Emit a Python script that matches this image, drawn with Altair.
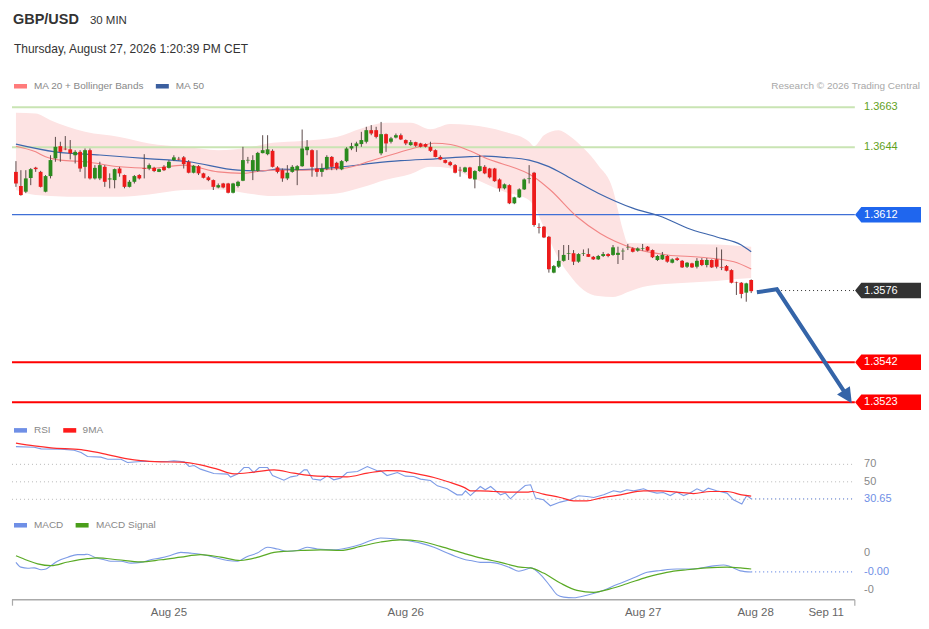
import altair as alt
import pandas as pd

# ---------------- data ----------------
candle_open = [
    1.36323, 1.36256, 1.36229, 1.36294, 1.36343, 1.36323, 1.36229, 1.36303, 1.36387, 1.36445,
    1.36433, 1.36430, 1.36402, 1.36418, 1.36347, 1.36426, 1.36292, 1.36292, 1.36347, 1.36287,
    1.36284, 1.36339, 1.36308, 1.36252, 1.36276, 1.36308, 1.36341, 1.36339, 1.36342, 1.36323,
    1.36347, 1.36342, 1.36379, 1.36385, 1.36392, 1.36371, 1.36319, 1.36350, 1.36316, 1.36297,
    1.36284, 1.36249, 1.36268, 1.36268, 1.36224, 1.36256, 1.36281, 1.36377, 1.36328, 1.36328,
    1.36412, 1.36407, 1.36423, 1.36344, 1.36331, 1.36292, 1.36323, 1.36331, 1.36350, 1.36426,
    1.36426, 1.36339, 1.36323, 1.36339, 1.36394, 1.36366, 1.36335, 1.36374, 1.36434, 1.36445,
    1.36455, 1.36466, 1.36521, 1.36521, 1.36411, 1.36502, 1.36466, 1.36486, 1.36497, 1.36474,
    1.36450, 1.36464, 1.36458, 1.36455, 1.36442, 1.36426, 1.36394, 1.36379, 1.36369, 1.36355,
    1.36333, 1.36323, 1.36344, 1.36287, 1.36327, 1.36347, 1.36339, 1.36339, 1.36287, 1.36245,
    1.36260, 1.36174, 1.36202, 1.36240, 1.36289, 1.36319, 1.36061, 1.36063, 1.36015, 1.35845,
    1.35873, 1.35901, 1.35935, 1.35937, 1.35897, 1.35934, 1.35933, 1.35920, 1.35908, 1.35924,
    1.35933, 1.35929, 1.35929, 1.35946, 1.35964, 1.35960, 1.35949, 1.35959, 1.35968, 1.35952,
    1.35905, 1.35908, 1.35924, 1.35892, 1.35913, 1.35901, 1.35873, 1.35889, 1.35873, 1.35905,
    1.35881, 1.35905, 1.35908, 1.35872, 1.35876, 1.35857, 1.35798, 1.35797, 1.35750, 1.35810,
]
candle_high = [
    1.36374, 1.36331, 1.36331, 1.36341, 1.36347, 1.36328, 1.36308, 1.36402, 1.36489, 1.36466,
    1.36493, 1.36474, 1.36426, 1.36426, 1.36434, 1.36434, 1.36355, 1.36371, 1.36355, 1.36316,
    1.36339, 1.36347, 1.36310, 1.36284, 1.36308, 1.36312, 1.36407, 1.36363, 1.36347, 1.36339,
    1.36355, 1.36379, 1.36402, 1.36394, 1.36398, 1.36379, 1.36355, 1.36355, 1.36319, 1.36303,
    1.36287, 1.36268, 1.36271, 1.36271, 1.36271, 1.36281, 1.36442, 1.36394, 1.36402, 1.36418,
    1.36497, 1.36497, 1.36430, 1.36350, 1.36339, 1.36355, 1.36355, 1.36355, 1.36524, 1.36474,
    1.36430, 1.36426, 1.36363, 1.36402, 1.36398, 1.36371, 1.36379, 1.36440, 1.36461, 1.36466,
    1.36513, 1.36537, 1.36545, 1.36537, 1.36560, 1.36505, 1.36489, 1.36505, 1.36505, 1.36477,
    1.36474, 1.36466, 1.36461, 1.36458, 1.36466, 1.36430, 1.36402, 1.36382, 1.36374, 1.36360,
    1.36347, 1.36347, 1.36347, 1.36331, 1.36402, 1.36355, 1.36342, 1.36342, 1.36292, 1.36268,
    1.36264, 1.36205, 1.36245, 1.36292, 1.36355, 1.36323, 1.36079, 1.36066, 1.36019, 1.35881,
    1.35952, 1.35976, 1.35976, 1.35952, 1.35937, 1.35955, 1.35960, 1.35924, 1.35929, 1.35943,
    1.35937, 1.35976, 1.35968, 1.35960, 1.35981, 1.35965, 1.35965, 1.35981, 1.35971, 1.35955,
    1.35929, 1.35943, 1.35929, 1.35913, 1.35918, 1.35905, 1.35895, 1.35892, 1.35914, 1.35914,
    1.35914, 1.35908, 1.35965, 1.35955, 1.35881, 1.35861, 1.35802, 1.35800, 1.35797, 1.35813,
]
candle_low = [
    1.36252, 1.36210, 1.36222, 1.36260, 1.36323, 1.36249, 1.36226, 1.36292, 1.36371, 1.36371,
    1.36426, 1.36382, 1.36363, 1.36323, 1.36292, 1.36287, 1.36287, 1.36284, 1.36252, 1.36245,
    1.36245, 1.36300, 1.36245, 1.36249, 1.36268, 1.36287, 1.36292, 1.36331, 1.36322, 1.36322,
    1.36327, 1.36339, 1.36374, 1.36377, 1.36339, 1.36316, 1.36316, 1.36308, 1.36292, 1.36279,
    1.36237, 1.36245, 1.36245, 1.36221, 1.36221, 1.36249, 1.36279, 1.36363, 1.36284, 1.36323,
    1.36411, 1.36402, 1.36344, 1.36316, 1.36276, 1.36284, 1.36319, 1.36260, 1.36347, 1.36402,
    1.36300, 1.36300, 1.36300, 1.36331, 1.36331, 1.36331, 1.36331, 1.36369, 1.36426, 1.36418,
    1.36442, 1.36458, 1.36497, 1.36482, 1.36402, 1.36418, 1.36458, 1.36482, 1.36474, 1.36450,
    1.36447, 1.36442, 1.36439, 1.36439, 1.36418, 1.36392, 1.36379, 1.36363, 1.36350, 1.36316,
    1.36300, 1.36319, 1.36289, 1.36245, 1.36323, 1.36312, 1.36292, 1.36276, 1.36229, 1.36240,
    1.36170, 1.36170, 1.36199, 1.36237, 1.36268, 1.36063, 1.36031, 1.36009, 1.35845, 1.35842,
    1.35867, 1.35897, 1.35905, 1.35881, 1.35892, 1.35924, 1.35919, 1.35905, 1.35905, 1.35919,
    1.35918, 1.35925, 1.35886, 1.35905, 1.35952, 1.35941, 1.35944, 1.35949, 1.35946, 1.35914,
    1.35900, 1.35905, 1.35892, 1.35889, 1.35900, 1.35867, 1.35867, 1.35867, 1.35865, 1.35876,
    1.35870, 1.35867, 1.35865, 1.35857, 1.35851, 1.35794, 1.35739, 1.35723, 1.35707, 1.35748,
]
candle_close = [
    1.36268, 1.36213, 1.36292, 1.36336, 1.36336, 1.36252, 1.36303, 1.36379, 1.36442, 1.36418,
    1.36430, 1.36411, 1.36418, 1.36339, 1.36426, 1.36292, 1.36342, 1.36355, 1.36276, 1.36292,
    1.36336, 1.36316, 1.36252, 1.36276, 1.36303, 1.36292, 1.36338, 1.36355, 1.36327, 1.36336,
    1.36331, 1.36371, 1.36392, 1.36382, 1.36360, 1.36319, 1.36352, 1.36316, 1.36295, 1.36284,
    1.36252, 1.36260, 1.36249, 1.36224, 1.36268, 1.36276, 1.36379, 1.36380, 1.36379, 1.36413,
    1.36426, 1.36430, 1.36347, 1.36323, 1.36292, 1.36319, 1.36347, 1.36350, 1.36434, 1.36442,
    1.36347, 1.36323, 1.36339, 1.36394, 1.36347, 1.36339, 1.36374, 1.36434, 1.36445, 1.36458,
    1.36474, 1.36521, 1.36505, 1.36489, 1.36502, 1.36458, 1.36482, 1.36497, 1.36477, 1.36458,
    1.36464, 1.36447, 1.36442, 1.36442, 1.36423, 1.36394, 1.36382, 1.36366, 1.36355, 1.36319,
    1.36330, 1.36344, 1.36292, 1.36327, 1.36350, 1.36316, 1.36297, 1.36279, 1.36245, 1.36264,
    1.36174, 1.36202, 1.36240, 1.36287, 1.36292, 1.36071, 1.36058, 1.36012, 1.35861, 1.35876,
    1.35901, 1.35929, 1.35938, 1.35897, 1.35933, 1.35937, 1.35920, 1.35908, 1.35924, 1.35933,
    1.35924, 1.35965, 1.35939, 1.35949, 1.35966, 1.35944, 1.35960, 1.35962, 1.35949, 1.35918,
    1.35924, 1.35929, 1.35897, 1.35908, 1.35905, 1.35870, 1.35892, 1.35870, 1.35901, 1.35881,
    1.35905, 1.35870, 1.35873, 1.35869, 1.35854, 1.35797, 1.35796, 1.35744, 1.35794, 1.35757,
]

band_idx = [0, 4, 7, 14, 21, 27, 34, 41, 47, 52, 58, 65, 70, 75, 80, 84, 88, 92, 99, 104,
            105, 107, 110, 112, 115, 118, 121, 122, 123, 124, 128, 135, 142, 146, 149]
band_upper = [1.36603, 1.36600, 1.36568, 1.36513, 1.36489, 1.36458, 1.36442, 1.36426, 1.36438, 1.36461,
              1.36470, 1.36489, 1.36529, 1.36556, 1.36556, 1.36525, 1.36550, 1.36545, 1.36513, 1.36466,
              1.36445, 1.36497, 1.36521, 1.36497, 1.36436, 1.36355, 1.36237, 1.36142, 1.36047, 1.35985,
              1.35983, 1.35981, 1.35978, 1.35973, 1.35968]
band_lower = [1.36237, 1.36213, 1.36209, 1.36205, 1.36205, 1.36216, 1.36237, 1.36240, 1.36221, 1.36208,
              1.36213, 1.36221, 1.36249, 1.36286, 1.36313, 1.36347, 1.36340, 1.36300, 1.36229, 1.36189,
              1.36160, 1.36060, 1.35910, 1.35840, 1.35763, 1.35734, 1.35729, 1.35734, 1.35743, 1.35753,
              1.35782, 1.35796, 1.35805, 1.35815, 1.35820]

ma20_idx = [0, 4, 6, 9, 14, 21, 27, 34, 41, 46, 51, 58, 66.5, 72, 77.3, 81.3, 84.7, 88.1, 92.1, 95.5,
            98.5, 104.9, 108.3, 113.7, 118.4, 125.2, 132, 138.8, 145.5, 149]
ma20_val = [1.36445, 1.36418, 1.36395, 1.36379, 1.36371, 1.36347, 1.36340, 1.36355, 1.36323, 1.36316,
            1.36331, 1.36331, 1.36340, 1.36376, 1.36413, 1.36440, 1.36459, 1.36453, 1.36422, 1.36385,
            1.36362, 1.36300, 1.36237, 1.36110, 1.36031, 1.35960, 1.35929, 1.35918, 1.35897, 1.35862]

ma50_idx = [0, 8, 17, 26, 35, 45, 50, 53, 58, 65, 72, 78, 85, 92, 95, 99, 104, 108, 112, 118,
            125, 131, 136, 142, 147, 149]
ma50_val = [1.36455, 1.36418, 1.36403, 1.36387, 1.36371, 1.36331, 1.36328, 1.36336, 1.36334, 1.36344,
            1.36363, 1.36376, 1.36385, 1.36395, 1.36398, 1.36392, 1.36379, 1.36348, 1.36298, 1.36222,
            1.36151, 1.36109, 1.36057, 1.36014, 1.35976, 1.35944]

resistance_levels = [1.3663, 1.3644]
pivot_level = 1.3612
last_price = 1.3576
support_levels = [1.3542, 1.3523]

forecast_idx = [150.15, 154.2, 168.39]
forecast_price = [1.35752, 1.35766, 1.35261]

rsi_idx = [0, 3.7, 5.1, 9.1, 11.8, 13.2, 14.5, 17.2, 18.6, 21.3, 22.6, 25.3, 30.7, 32, 34.1, 35.1, 36.1,
           37.4, 40.1, 42.9, 43.5, 44.9, 46.2, 47.2, 48.2, 49.3, 51, 52, 54.3, 55.7, 57, 58.4, 59, 60.1,
           61.7, 63.1, 64.4, 65.8, 67.1, 69.2, 71.2, 73.2, 73.9, 75.2, 77.3, 78.9, 80.6, 82, 84, 85.4,
           87.4, 89.4, 90.4, 91.1, 92.1, 94.1, 95.1, 96.2, 98.2, 99.2, 100.2, 101.6, 103.2, 104.3, 105.3,
           106.9, 108.3, 110.3, 112.3, 114, 115.7, 117.1, 119.1, 121.1, 122.5, 123.8, 125.2, 127.2, 128.5,
           129.9, 131.2, 132.6, 133.9, 135.3, 136.6, 138, 139.3, 140.3, 142, 144.1, 145.4, 147.1, 148.1, 149]
rsi_val = [90.3, 89.6, 87.7, 87.4, 86.2, 83.5, 78.9, 78.2, 75.9, 75.9, 72.1, 73.2, 73.2, 74.0, 72.9, 67.5, 68.6,
           64.5, 59.5, 58.8, 55.4, 58.8, 66.3, 66.3, 60.6, 66.3, 66.3, 57.2, 51.9, 55.7, 56.9, 63.7, 63.7, 53.1,
           51.9, 56.9, 52.3, 54.2, 60.6, 61.8, 67.5, 62.6, 62.9, 57.2, 60.6, 56.5, 56.1, 53.1, 51.5, 45.4,
           42.0, 35.1, 35.1, 39.7, 34.3, 44.6, 40.9, 44.6, 35.1, 37.1, 30.6, 38.2, 45.8, 46.6, 31.4,
           29.4, 22.6, 26.8, 29.4, 34.0, 33.2, 32.1, 35.1, 39.7, 38.2, 40.9, 39.7, 42.0, 38.9,
           37.1, 37.8, 34.3, 38.2, 34.3, 37.1, 42.0, 38.9, 42.8, 39.7, 37.1, 29.4, 24.5, 34.3, 30.65]

rsi_ma_idx = [0, 3.7, 7.1, 13.2, 17.2, 22.6, 25.3, 29.4, 33.4, 37.4, 40.8, 44.2, 48.2, 52.3, 56.3, 61.1,
              67.1, 71.2, 75.2, 77.9, 80.6, 84.7, 87.4, 91.1, 92.1, 94.1, 96.8, 100.2, 103.6, 104.6, 106.9,
              110.3, 113, 115.7, 118.4, 122.5, 127.2, 130.6, 133.9, 137.3, 140.7, 144.1, 147.1, 149]
rsi_ma_val = [94.2, 91.1, 88.9, 86.9, 82.8, 76.3, 74.3, 72.9, 72.5, 69.4, 64.5, 59.1, 61.1, 63.7, 59.9, 56.5,
              55.7, 59.9, 62.9, 62.6, 59.9, 54.9, 50.3, 42.8, 39.7, 39.7, 38.9, 38.2, 38.2, 38.9, 35.9,
              32.1, 28.3, 28.3, 31.4, 35.1, 39.7, 39.7, 38.2, 36.6, 38.9, 38.9, 35.1, 33.6]
rsi_levels = [70, 50, 30]
rsi_last = 30.65

macd_idx = [0, 1, 2.4, 3.7, 5.1, 6.1, 7.1, 8.4, 10.5, 12.5, 13.8, 14.5, 15.9, 17.9, 19.2, 21.3, 23.3, 25.3,
            27.3, 29.4, 31.4, 33.4, 35.4, 37.4, 40.1, 42.9, 44.9, 46.9, 48.9, 51, 53, 55, 57, 59, 61.1, 64.4,
            67.1, 69.8, 71.9, 73.9, 76.6, 79.3, 82, 84.7, 87.4, 89.1, 91.1, 92.1, 94.1, 96.2, 98.2, 100.2,
            101.9, 103.6, 104.3, 106.3, 108.3, 109.7, 111, 113, 115.7, 118.4, 121.8, 125.2, 127.9, 130.6,
            133.9, 137.3, 140.7, 143.4, 144.7, 146.8, 149]
macd_val = [-0.00026, -0.00039, -0.00042, -0.00041, -0.00046, -0.00044, -0.00035, -0.00023, -0.00012, -0.00005,
            -0.00005, -0.00004, -0.00012, -0.00019, -0.00023, -0.00023, -0.00028, -0.00026, -0.00019, -0.00014,
            -0.00007, 0.00001, -0.00001, -0.00004, -0.00012, -0.00021, -0.00023, -0.00010, -0.00001, 0.00015,
            0.00010, 0.00004, 0.00006, 0.00015, 0.00010, 0.00008, 0.00013, 0.00022, 0.00033, 0.00040, 0.00038,
            0.00033, 0.00026, 0.00015, -0.00001, -0.00010, -0.00019, -0.00021, -0.00026, -0.00026, -0.00031,
            -0.00041, -0.00050, -0.00044, -0.00041, -0.00059, -0.00091, -0.00114, -0.00120, -0.00122, -0.00115,
            -0.00105, -0.00086, -0.00068, -0.00053, -0.00048, -0.00044, -0.00044, -0.00037, -0.00033, -0.00037,
            -0.00049, -0.00052]
signal_idx = [0, 2.4, 4.4, 7.1, 10.5, 14.5, 16.5, 20.6, 25.3, 29.4, 33.4, 37.4, 41.5, 45.5, 49.6, 52.3, 55,
              57.7, 61.7, 65.8, 69.8, 73.9, 77.9, 82, 86, 91.1, 94.1, 98.2, 102.2, 104.3, 106.9, 110.3, 113.7,
              117.1, 120.4, 123.8, 127.9, 131.9, 136, 140, 144.1, 146.8, 149]
signal_val = [-0.00008, -0.00021, -0.00030, -0.00035, -0.00025, -0.00016, -0.00014, -0.00019, -0.00025, -0.00019,
              -0.00012, -0.00005, -0.00012, -0.00021, -0.00010, 0.00001, 0.00004, 0.00006, 0.00008, 0.00006,
              0.00017, 0.00029, 0.00035, 0.00031, 0.00017, -0.00003, -0.00014, -0.00026, -0.00039, -0.00041,
              -0.00055, -0.00082, -0.00102, -0.00107, -0.00098, -0.00084, -0.00066, -0.00053, -0.00046, -0.00041,
              -0.00039, -0.00041, -0.00044]
macd_last = -0.00052
macd_marks = [0.0, -0.001]
macd_mark_labels = ["0", "-0"]

x_tick_pos = [31.0, 79.0, 127.1, 149.9, 164.2]
x_tick_labels = ["Aug 25", "Aug 26", "Aug 27", "Aug 28", "Sep 11"]

# ---------------- styling / layout ----------------
FONT = "Liberation Sans"
W = 910
H_PRICE, H_RSI, H_MACD = 407, 95, 111
AXIS_Y = 90
X_START, LINE_END, DOT_END = -0.8, 170.0, 169.6

GREEN_C = "#2b8a1e"
RED_C = "#ec1b1b"
ARROW = "#3464a8"
RSI_BLUE = "#7d9be6"

TAG = "M-1,0L-0.81,-0.235L1,-0.235L1,0.235L-0.81,0.235Z"
SWATCH = "M-1,-0.35L1,-0.35L1,0.35L-1,0.35Z"
HEAD = "M0,-1L0.85,0.7L-0.85,0.7Z"

XS = alt.Scale(domain=[X_START, 183.41], nice=False, zero=False)
PS = alt.Scale(domain=[1.35170, 1.37099], nice=False, zero=False)
RS = alt.Scale(domain=[18.0, 126.57], nice=False, zero=False)
MS = alt.Scale(domain=[-0.001838, 0.001162], nice=False, zero=False)


def xenc(field="i"):
    return alt.X(f"{field}:Q", scale=XS, axis=None)


def yenc(field, scale):
    return alt.Y(f"{field}:Q", scale=scale, axis=None)


def text_at(s, x, y, size=10, color="#888888", weight="normal", align="left", baseline="middle"):
    return alt.Chart(pd.DataFrame({"t": [s]})).mark_text(
        font=FONT, fontSize=size, color=color, fontWeight=weight, align=align, baseline=baseline
    ).encode(text="t:N", x=alt.value(x), y=alt.value(y))


def swatch(x, y, color):
    return alt.Chart(pd.DataFrame({"k": [0]})).mark_point(
        shape=SWATCH, size=169, filled=True, opacity=1, strokeWidth=0, color=color
    ).encode(x=alt.value(x), y=alt.value(y))


def hline(values, scale, color, width, dash=None, x0=X_START, x1=LINE_END):
    df = pd.DataFrame({"p": values})
    df["x0"] = x0
    df["x1"] = x1
    kw = dict(color=color, strokeWidth=width)
    if dash:
        kw["strokeDash"] = dash
    return alt.Chart(df).mark_rule(**kw).encode(x=xenc("x0"), x2="x1:Q", y=yenc("p", scale))


def series_line(idx, vals, scale, color, width, interp="linear"):
    df = pd.DataFrame({"i": idx, "v": vals})
    return alt.Chart(df).mark_line(color=color, strokeWidth=width, interpolate=interp).encode(
        x=xenc("i"), y=yenc("v", scale)
    )


def side_text(values, labels, scale, color, size=11, x=853):
    df = pd.DataFrame({"p": values, "lab": labels})
    return alt.Chart(df).mark_text(
        font=FONT, fontSize=size, color=color, align="left", baseline="middle"
    ).encode(x=alt.value(x), y=yenc("p", scale), text="lab:N")


# ---------------- price panel ----------------
cdf = pd.DataFrame({"i": list(range(len(candle_open))), "o": candle_open, "h": candle_high,
                    "l": candle_low, "c": candle_close})
bdf = pd.DataFrame({"i": band_idx, "up": band_upper, "lo": band_lower})

band = alt.Chart(bdf).mark_area(color="#fde3e3", opacity=1, interpolate="monotone").encode(
    x=xenc(), y=yenc("up", PS), y2="lo:Q")

green_lines = hline(resistance_levels, PS, "#c9e4b3", 2)
blue_line = hline([pivot_level], PS, "#3f6fd6", 1.2)
red_lines = hline(support_levels, PS, "#ff0000", 2)
last_line = hline([last_price], PS, "#333333", 1, dash=[1, 3], x0=150.2)

ma50 = series_line(ma50_idx, ma50_val, PS, "#3e66ad", 1.2, "monotone")
ma20 = series_line(ma20_idx, ma20_val, PS, "#f28585", 1.1, "monotone")

wicks = alt.Chart(cdf).mark_rule(color="#5b4a4a", strokeWidth=1).encode(
    x=xenc(), y=yenc("l", PS), y2="h:Q")
bodies = alt.Chart(cdf).mark_rule(strokeWidth=3.8).encode(
    x=xenc(), y=yenc("o", PS), y2="c:Q",
    color=alt.condition("datum.c >= datum.o", alt.value(GREEN_C), alt.value(RED_C)))

adf = pd.DataFrame({"i": forecast_idx, "p": forecast_price, "k": list(range(len(forecast_idx)))})
arrow_line = alt.Chart(adf).mark_line(color=ARROW, strokeWidth=4).encode(
    x=xenc(), y=yenc("p", PS), order="k:Q")
arrow_head = alt.Chart(adf.tail(1)).mark_point(
    shape=HEAD, size=324, filled=True, opacity=1, strokeWidth=0, color=ARROW, angle=147
).encode(x=xenc(), y=yenc("p", PS))

tag_vals = [pivot_level, last_price] + support_levels
tdf = pd.DataFrame({"p": tag_vals, "col": ["#1f66ee", "#333333", "#ff0000", "#ff0000"]})
tags = alt.Chart(tdf).mark_point(shape=TAG, size=4356, filled=True, opacity=1, strokeWidth=0).encode(
    x=alt.value(877), y=yenc("p", PS), color=alt.Color("col:N", scale=None))
tag_text = side_text(tag_vals, [f"{v:.4f}" for v in tag_vals], PS, "white")
green_text = side_text(resistance_levels, [f"{v:.4f}" for v in resistance_levels], PS, "#62a21e")

header = [
    text_at("GBP/USD", 1, 16, size=14.5, color="#333333", weight="bold", baseline="alphabetic"),
    text_at("30 MIN", 78, 15.3, size=11.5, color="#333333", baseline="alphabetic"),
    text_at("Thursday, August 27, 2026 1:20:39 PM CET", 2, 44.3, size=12, color="#333333",
            baseline="alphabetic"),
    swatch(8.5, 78, "#ff7b7b"),
    text_at("MA 20 + Bollinger Bands", 22, 78, size=10, color="#888888"),
    swatch(150.5, 78, "#3b5f9f"),
    text_at("MA 50", 164, 78, size=10, color="#888888"),
    text_at("Research \u00a9 2026 Trading Central", 909, 78, size=10, color="#a8a8a8", align="right"),
]

price = alt.layer(
    band, green_lines, blue_line, red_lines, last_line, ma50, ma20, wicks, bodies,
    arrow_line, arrow_head, tags, tag_text, green_text, *header
).properties(width=W, height=H_PRICE)

# ---------------- RSI panel ----------------
rsi_grid = hline(rsi_levels, RS, "#b8b8b8", 1, dash=[1, 3], x1=DOT_END)
rsi_line = series_line(rsi_idx, rsi_val, RS, RSI_BLUE, 1.1)
rsi_ma = series_line(rsi_ma_idx, rsi_ma_val, RS, "#ff2b2b", 1.2, "monotone")
rsi_dot = hline([rsi_last], RS, "#6f8fe6", 1.2, dash=[1, 3], x0=149, x1=DOT_END)
rsi_lbl = side_text(rsi_levels[:2], [str(v) for v in rsi_levels[:2]], RS, "#888888")
rsi_last_lbl = side_text([rsi_last], [f"{rsi_last:.2f}"], RS, "#6f8fe6")
rsi_leg = [
    swatch(8.5, 15.5, "#6f8fe6"), text_at("RSI", 22, 15.5),
    swatch(57.8, 15.5, "#ff1a1a"), text_at("9MA", 70.7, 15.5),
]
rsi = alt.layer(rsi_grid, rsi_line, rsi_ma, rsi_dot, rsi_lbl, rsi_last_lbl, *rsi_leg).properties(
    width=W, height=H_RSI)

# ---------------- MACD panel (with time axis) ----------------
macd_line = series_line(macd_idx, macd_val, MS, RSI_BLUE, 1.1, "monotone")
signal_line = series_line(signal_idx, signal_val, MS, "#5aaa25", 1.2, "monotone")
macd_dot = hline([macd_last], MS, "#6f8fe6", 1.2, dash=[1, 3], x0=149, x1=DOT_END)
macd_lbl = side_text(macd_marks, macd_mark_labels, MS, "#888888")
macd_last_lbl = side_text([macd_last], [f"{macd_last:.2f}"], MS, "#6f8fe6")

axis_df = pd.DataFrame({"x0": [X_START], "x1": [LINE_END]})
axis_line = alt.Chart(axis_df).mark_rule(color="#aaaaaa", strokeWidth=1.6).encode(
    x=xenc("x0"), x2="x1:Q", y=alt.value(AXIS_Y))
end_df = pd.DataFrame({"x0": [X_START + 0.1, LINE_END]})
axis_ends = alt.Chart(end_df).mark_rule(color="#aaaaaa", strokeWidth=1.2).encode(
    x=xenc("x0"), y=alt.value(AXIS_Y), y2=alt.value(AXIS_Y + 6))
tick_df = pd.DataFrame({"i": x_tick_pos, "lab": x_tick_labels})
tick_text = alt.Chart(tick_df).mark_text(
    font=FONT, fontSize=11.5, color="#666666", align="center", baseline="middle"
).encode(x=xenc("i"), y=alt.value(AXIS_Y + 13), text="lab:N")

macd_leg = [
    swatch(8.5, 15.5, "#6f8fe6"), text_at("MACD", 22, 15.5),
    swatch(70.2, 15.5, "#4a9e1a"), text_at("MACD Signal", 84, 15.5),
]
macd = alt.layer(macd_line, signal_line, macd_dot, macd_lbl, macd_last_lbl, axis_line, axis_ends,
                 tick_text, *macd_leg).properties(width=W, height=H_MACD)

chart = alt.vconcat(price, rsi, macd, spacing=0, bounds="flush").properties(
    padding={"left": 3, "top": 0, "right": 0, "bottom": 0},
    background="white",
).configure_view(stroke=None)

chart.save("out.html", embed_options={"renderer": "svg", "actions": False})
